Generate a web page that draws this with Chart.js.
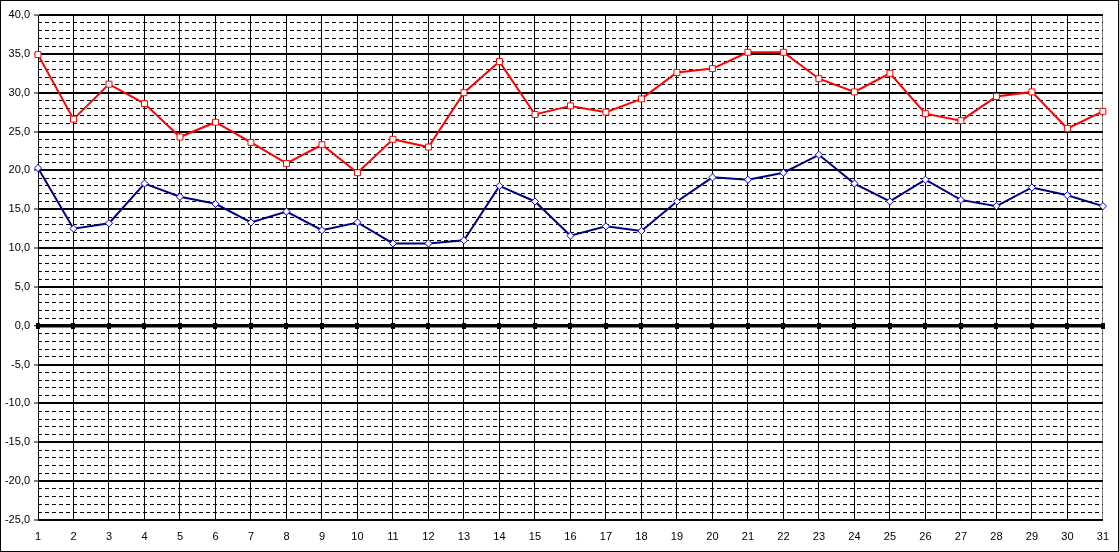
<!DOCTYPE html>
<html lang="en">

<head>
    <meta charset="UTF-8">
    <title>Temperaturen</title>
    <style>
        html, body {
            margin: 0;
            padding: 0;
            background: #ffffff;
        }

        #chart {
            display: block;
        }
    </style>
    <script src="https://cdn.jsdelivr.net/npm/chart.js"></script>
</head>

<body>
    <canvas id="chart" width="1119" height="552"></canvas>

    <script>
        // days of the month
        const days = ["1", "2", "3", "4", "5", "6", "7", "8", "9", "10", "11", "12", "13", "14", "15", "16",
            "17", "18", "19", "20", "21", "22", "23", "24", "25", "26", "27", "28", "29", "30", "31"];

        // daily maximum (red) and minimum (blue)
        const maxValues = [34.9, 26.6, 31.1, 28.6, 24.3, 26.2, 23.6, 20.9, 23.3, 19.7, 24.0, 23.0, 30.0, 34.0, 27.2, 28.3,
            27.5, 29.2, 32.6, 33.1, 35.2, 35.2, 31.8, 30.1, 32.5, 27.3, 26.4, 29.5, 30.1, 25.4, 27.6];
        const minValues = [20.3, 12.5, 13.2, 18.3, 16.6, 15.7, 13.3, 14.7, 12.3, 13.3, 10.6, 10.6, 11.0, 18.0, 16.0, 11.6,
            12.8, 12.2, 16.0, 19.1, 18.8, 19.7, 22.0, 18.3, 16.0, 18.8, 16.2, 15.4, 17.8, 16.8, 15.4];

        // axis range
        const yMin = -25;
        const yMax = 40;

        const labelFont = { family: "'Liberation Sans', Arial, sans-serif", size: 11 };

        // white background + outer frame
        const framePlugin = {
            id: "frame",
            beforeDraw(chart) {
                const ctx = chart.ctx;
                ctx.save();
                ctx.fillStyle = "#ffffff";
                ctx.fillRect(0, 0, chart.width, chart.height);
                ctx.restore();
            },
            afterDraw(chart) {
                const ctx = chart.ctx;
                ctx.save();
                ctx.strokeStyle = "#000000";
                ctx.lineWidth = 1;
                ctx.strokeRect(0.5, 0.5, chart.width - 1, chart.height - 1);
                ctx.restore();
            }
        };

        // little tick squares on the zero line
        const zeroTicksPlugin = {
            id: "zeroTicks",
            beforeDatasetsDraw(chart) {
                const ctx = chart.ctx;
                const x = chart.scales.x;
                const y0 = chart.scales.y.getPixelForValue(0);
                ctx.save();
                ctx.fillStyle = "#000000";
                for (let i = 0; i < days.length; i++) {
                    const px = Math.round(x.getPixelForValue(i));
                    ctx.fillRect(px - 2, Math.round(y0) - 3, 4, 6);
                }
                ctx.restore();
            }
        };

        new Chart(document.getElementById("chart"), {
            type: "line",
            data: {
                labels: days,
                datasets: [
                    {
                        label: "Max",
                        data: maxValues,
                        borderColor: "#ff0000",
                        borderWidth: 2,
                        pointStyle: "rect",
                        pointRadius: 4.2,
                        pointBorderWidth: 1,
                        pointBorderColor: "#ff0000",
                        pointBackgroundColor: "#ffffff",
                        tension: 0
                    },
                    {
                        label: "Min",
                        data: minValues,
                        borderColor: "#000080",
                        borderWidth: 2,
                        pointStyle: "rectRot",
                        pointRadius: 3.6,
                        pointBorderWidth: 1,
                        pointBorderColor: "#0000ff",
                        pointBackgroundColor: "#ffffff",
                        tension: 0
                    }
                ]
            },
            options: {
                responsive: false,
                devicePixelRatio: 1,
                animation: false,
                layout: {
                    padding: { top: 15, right: 15, bottom: 0, left: 0 }
                },
                plugins: {
                    legend: { display: false },
                    tooltip: { enabled: false }
                },
                scales: {
                    x: {
                        type: "category",
                        offset: false,
                        grid: {
                            color: ctx => ctx.index === days.length - 1 ? "#808080" : "#000000",
                            lineWidth: 1,
                            drawTicks: false
                        },
                        border: { display: false },
                        ticks: {
                            color: "#000000",
                            font: labelFont,
                            padding: 10,
                            autoSkip: false,
                            maxRotation: 0
                        },
                        afterFit(scale) {
                            scale.height = 32;
                        }
                    },
                    yMinor: {
                        position: "left",
                        min: yMin,
                        max: yMax,
                        ticks: { display: false, stepSize: 1 },
                        grid: {
                            color: ctx => (ctx.tick && ctx.tick.value % 5 === 0) ? "rgba(0,0,0,0)" : "#000000",
                            lineWidth: 1,
                            drawTicks: false
                        },
                        border: { display: false, dash: [4, 3] },
                        afterFit(scale) {
                            scale.width = 0;
                        }
                    },
                    y: {
                        position: "left",
                        min: yMin,
                        max: yMax,
                        ticks: {
                            stepSize: 5,
                            color: "#000000",
                            font: labelFont,
                            padding: 4,
                            callback: v => v.toFixed(1).replace(".", ",")
                        },
                        grid: {
                            color: "#000000",
                            lineWidth: ctx => (ctx.tick && ctx.tick.value === 0) ? 3.5 : 2,
                            tickLength: 4,
                            tickWidth: 1,
                            tickColor: "#000000"
                        },
                        border: { display: true, color: "#000000", width: 1 },
                        afterFit(scale) {
                            scale.width = 38;
                        }
                    }
                }
            },
            plugins: [framePlugin, zeroTicksPlugin]
        });
    </script>
</body>

</html>
